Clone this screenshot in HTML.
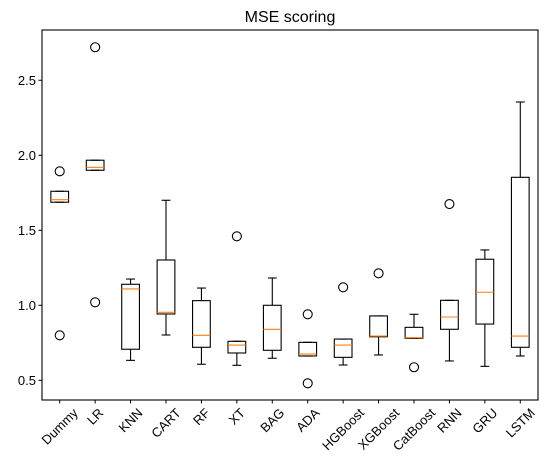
<!DOCTYPE html>
<html><head><meta charset="utf-8"><style>
html,body{margin:0;padding:0;background:#fff;}
svg{display:block;font-family:"Liberation Sans","DejaVu Sans",sans-serif;}
</style></head><body>
<svg id="chart" width="548" height="474">
<rect x="0" y="0" width="548" height="474" fill="#fff"/>
<text x="290" y="22" font-size="16" text-anchor="middle">MSE scoring</text>
<g id="marks"></g>
<rect x="42" y="30" width="496" height="370" fill="none" stroke="#000" stroke-width="1.1"/>
</svg>
<script>
const categories=["Dummy","LR","KNN","CART","RF","XT","BAG","ADA","HGBoost","XGBoost","CatBoost","RNN","GRU","LSTM"];
const whiskerLow=[1.687,1.90,0.633,0.802,0.607,0.60,0.647,0.662,0.602,0.669,0.78,0.629,0.593,0.662];
const q1=[1.687,1.90,0.707,0.942,0.72,0.682,0.70,0.662,0.653,0.79,0.78,0.84,0.875,0.72];
const medians=[1.704,1.92,1.109,0.953,0.80,0.735,0.84,0.675,0.735,0.795,0.784,0.922,1.087,0.795];
const q3=[1.76,1.967,1.14,1.302,1.031,0.76,1.0,0.753,0.775,0.929,0.853,1.033,1.307,1.853];
const whiskerHigh=[1.76,1.967,1.175,1.70,1.115,0.76,1.182,0.753,0.775,0.929,0.94,1.033,1.369,2.355];
const outliers=[[1.893,0.80],[2.72,1.02],[],[],[],[1.46],[],[0.94,0.48],[1.12],[1.213],[0.587],[1.675],[],[]];
const yTicks=[0.5,1.0,1.5,2.0,2.5];
const yTickLabels=["0.5","1.0","1.5","2.0","2.5"];

const NS="http://www.w3.org/2000/svg";
const L=42,R=538,T=30,B=400,yMin=0.3687,yMax=2.835;
const step=(R-L)/categories.length;
function xS(i){return L+step*(i+0.5);}
function yS(v){return B-(v-yMin)/(yMax-yMin)*(B-T);}
const g=document.getElementById('marks');
function el(tag,attrs,parent){const e=document.createElementNS(NS,tag);for(const k in attrs)e.setAttribute(k,attrs[k]);(parent||g).appendChild(e);return e;}

yTicks.forEach((v,i)=>{
  const y=yS(v);
  const t=el('line',{x1:L-3.5,x2:L,y1:y,y2:y,stroke:'#000','stroke-width':1});
  
  
  const tx=el('text',{x:L-6,y:y+4.5,'font-size':13,'text-anchor':'end'});
  tx.textContent=yTickLabels[i];
  
  
});

const bw=step*0.5, cw=bw*0.5;
categories.forEach((c,i)=>{
  const x=xS(i);
  const grp=el('g',{});
  
  
  const s={stroke:'#000','stroke-width':1.1,fill:'none'};
  el('line',Object.assign({x1:x,x2:x,y1:yS(whiskerLow[i]),y2:yS(q1[i])},s),grp);
  el('line',Object.assign({x1:x,x2:x,y1:yS(q3[i]),y2:yS(whiskerHigh[i])},s),grp);
  el('line',Object.assign({x1:x-cw/2,x2:x+cw/2,y1:yS(whiskerLow[i]),y2:yS(whiskerLow[i])},s),grp);
  el('line',Object.assign({x1:x-cw/2,x2:x+cw/2,y1:yS(whiskerHigh[i]),y2:yS(whiskerHigh[i])},s),grp);
  el('rect',Object.assign({x:x-bw/2,y:yS(q3[i]),width:bw,height:Math.max(0.1,yS(q1[i])-yS(q3[i]))},s),grp);
  el('line',{x1:x-bw/2,x2:x+bw/2,y1:yS(medians[i]),y2:yS(medians[i]),stroke:'#ff7f0e','stroke-width':1.1},grp);
  outliers[i].forEach(v=>{
    const o=el('circle',{cx:x,cy:yS(v),r:4.5,fill:'none',stroke:'#000','stroke-width':1.1},grp);
    
    
  });
  const t=el('line',{x1:x,x2:x,y1:B,y2:B+3.5,stroke:'#000','stroke-width':1});
  
  
  const lb=el('text',{'font-size':13,'text-anchor':'middle'});
  lb.textContent=c;
  
  
  const w=lb.getComputedTextLength();
  const h=(w+10)*0.7071;
  const cy=407+h/2;
  lb.setAttribute('x',x);lb.setAttribute('y',cy+4.5);
  lb.setAttribute('transform','rotate(-45 '+x+' '+cy+')');
});
</script>
</body></html>
